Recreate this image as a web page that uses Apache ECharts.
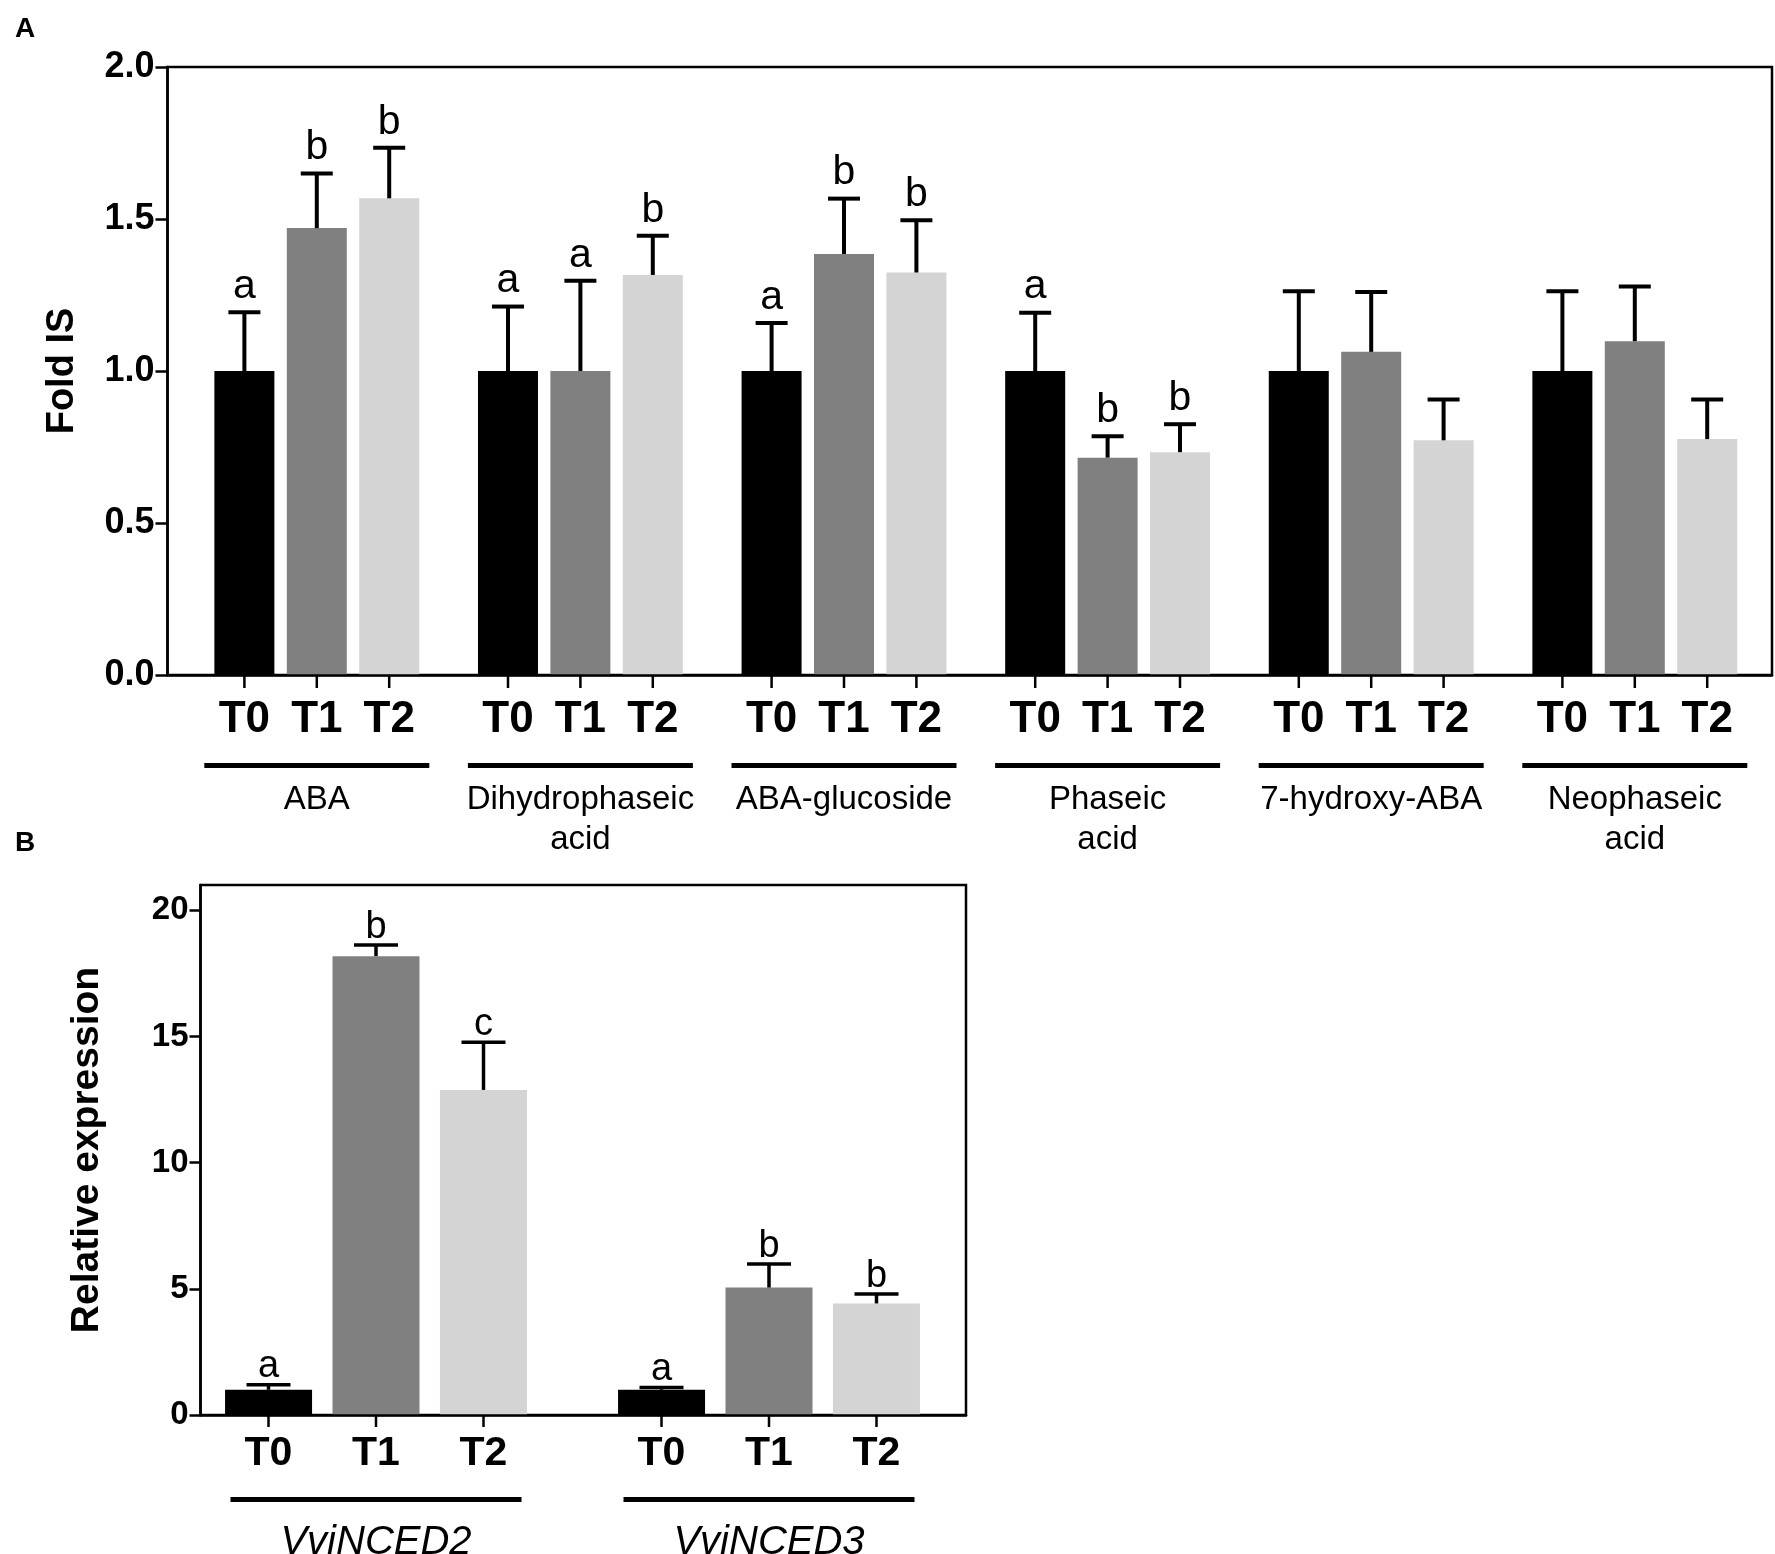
<!DOCTYPE html>
<html><head><meta charset="utf-8">
<script src="https://cdn.jsdelivr.net/npm/echarts@6/dist/echarts.min.js"></script>
<style>html,body{margin:0;padding:0;background:#fff}#c{width:1775px;height:1554px}</style>
</head><body><div id="c"></div>
<script>
// ---------- Panel A data ----------
const groupsA = ['ABA', 'Dihydrophaseic\nacid', 'ABA-glucoside', 'Phaseic\nacid', '7-hydroxy-ABA', 'Neophaseic\nacid'];
const timeLabels = ['T0', 'T1', 'T2'];
const t0A = [1.0, 1.0, 1.0, 1.0, 1.0, 1.0];
const t1A = [1.47, 1.0, 1.385, 0.715, 1.063, 1.098];
const t2A = [1.568, 1.316, 1.324, 0.733, 0.772, 0.776];
const t0ErrA = [0.193, 0.212, 0.158, 0.192, 0.262, 0.262];
const t1ErrA = [0.18, 0.297, 0.182, 0.07, 0.197, 0.18];
const t2ErrA = [0.166, 0.129, 0.172, 0.092, 0.134, 0.13];
const t0LetA = ['a', 'a', 'a', 'a', '', ''];
const t1LetA = ['b', 'a', 'b', 'b', '', ''];
const t2LetA = ['b', 'b', 'b', 'b', '', ''];
const yTicksA = [0, 0.5, 1.0, 1.5, 2.0];

// ---------- Panel B data ----------
const groupsB = ['VviNCED2', 'VviNCED3'];
const t0B = [1.0, 1.0];
const t1B = [18.18, 5.05];
const t2B = [12.88, 4.42];
const t0ErrB = [0.2, 0.09];
const t1ErrB = [0.44, 0.93];
const t2ErrB = [1.89, 0.37];
const t0LetB = ['a', 'a'];
const t1LetB = ['b', 'b'];
const t2LetB = ['c', 'b'];
const yTicksB = [0, 5, 10, 15, 20];

const FONT = '"Liberation Sans", Arial, Helvetica, sans-serif';
const colors = ['#000000', '#808080', '#d4d4d4'];

function overlay(cfg) {
  const items = [];
  for (let g = 0; g < cfg.means[0].length; g++) for (let t = 0; t < 3; t++) items.push([g, t]);
  return {
    type: 'custom', xAxisIndex: cfg.xi, yAxisIndex: cfg.yi, z: 10, clip: false, silent: true,
    data: items,
    renderItem: function (params, api) {
      const g = api.value(0), t = api.value(1);
      const mean = cfg.means[t][g], err = cfg.errs[t][g], letter = cfg.letters[t][g];
      const base = api.coord([g, 0]);
      const x = base[0] + (t - 1) * cfg.step;
      const y0 = base[1];
      const yTop = api.coord([g, mean])[1];
      const yCap = api.coord([g, mean + err])[1];
      const ch = [
        { type: 'line', shape: { x1: x, y1: y0, x2: x, y2: y0 + cfg.tickLen }, style: { stroke: '#000', lineWidth: cfg.tickW } },
        { type: 'text', style: { text: timeLabels[t], x: x, y: y0 + cfg.tOff, align: 'center', verticalAlign: 'middle', font: 'bold ' + cfg.tSize + 'px ' + FONT, fill: '#000' } },
        { type: 'line', shape: { x1: x, y1: yTop, x2: x, y2: yCap }, style: { stroke: '#000', lineWidth: cfg.ebW } },
        { type: 'line', shape: { x1: x - cfg.cap / 2, y1: yCap, x2: x + cfg.cap / 2, y2: yCap }, style: { stroke: '#000', lineWidth: cfg.ebW } }
      ];
      if (letter) ch.push({ type: 'text', style: { text: letter, x: x, y: yCap + cfg.letterOff, align: 'center', verticalAlign: 'bottom', font: cfg.letterSize + 'px ' + FONT, fill: '#000' } });
      return { type: 'group', children: ch };
    }
  };
}

function bars(xi, yi, arrs, w, gap) {
  return arrs.map((d, i) => ({
    type: 'bar', xAxisIndex: xi, yAxisIndex: yi, data: d, barWidth: w, barGap: gap,
    itemStyle: { color: colors[i] }, silent: true, z: 2
  }));
}

const option = {
  animation: false,
  backgroundColor: '#fff',
  textStyle: { fontFamily: FONT, color: '#000' },
  title: [
    { text: 'A', left: 15, top: 15, padding: 0, textStyle: { fontSize: 28, fontWeight: 'bold', color: '#000', fontFamily: FONT } },
    { text: 'B', left: 15, top: 829, padding: 0, textStyle: { fontSize: 28, fontWeight: 'bold', color: '#000', fontFamily: FONT } }
  ],
  grid: [
    { left: 185, top: 67, width: 1581.6, height: 608, outerBoundsMode: 'none', containLabel: false },
    { left: 167.5, top: 67, width: 1604.5, height: 608, show: true, borderColor: '#000', borderWidth: 2.5, outerBoundsMode: 'none', containLabel: false },
    { left: 179.5, top: 885, width: 786, height: 530, outerBoundsMode: 'none', containLabel: false },
    { left: 200.5, top: 885, width: 765.5, height: 530, show: true, borderColor: '#000', borderWidth: 2.5, outerBoundsMode: 'none', containLabel: false }
  ],
  xAxis: [
    { gridIndex: 0, type: 'category', data: groupsA, axisLine: { show: false }, axisTick: { show: false },
      axisLabel: { interval: 0, margin: 88, color: '#000',
        formatter: v => '{line|}\n{gap|}\n' + v.split('\n').map(s => '{name|' + s + '}').join('\n'),
        rich: { line: { width: 225, height: 5, backgroundColor: '#000' }, gap: { height: 12 },
                name: { fontSize: 33, lineHeight: 40, color: '#000', fontFamily: FONT } } } },
    { gridIndex: 1, type: 'value', min: 0, max: 1, z: 5, axisLine: { show: true, lineStyle: { color: '#000', width: 2.5 } },
      axisTick: { show: false }, axisLabel: { show: false }, splitLine: { show: false } },
    { gridIndex: 2, type: 'category', data: groupsB, axisLine: { show: false }, axisTick: { show: false },
      axisLabel: { interval: 0, margin: 82, color: '#000',
        formatter: v => '{line|}\n{gap|}\n{name|' + v + '}',
        rich: { line: { width: 291, height: 5, backgroundColor: '#000' }, gap: { height: 19 },
                name: { fontSize: 40, lineHeight: 44, fontStyle: 'italic', color: '#000', fontFamily: FONT } } } },
    { gridIndex: 3, type: 'value', min: 0, max: 1, z: 5, axisLine: { show: true, lineStyle: { color: '#000', width: 2.5 } },
      axisTick: { show: false }, axisLabel: { show: false }, splitLine: { show: false } }
  ],
  yAxis: [
    { gridIndex: 0, type: 'value', min: 0, max: 2, show: false },
    { gridIndex: 1, type: 'value', min: 0, max: 2, interval: 0.5, z: 5,
      axisLine: { show: true, lineStyle: { color: '#000', width: 2.5 } },
      axisTick: { show: true, length: 12, lineStyle: { color: '#000', width: 2.5 }, customValues: yTicksA },
      axisLabel: { margin: 13, fontSize: 36, fontWeight: 'bold', color: '#000', fontFamily: FONT, customValues: yTicksA, formatter: v => v.toFixed(1) },
      splitLine: { show: false },
      name: 'Fold IS', nameLocation: 'middle', nameGap: 86,
      nameTextStyle: { fontSize: 38, fontWeight: 'bold', color: '#000', fontFamily: FONT } },
    { gridIndex: 2, type: 'value', min: 0, max: 21, show: false },
    { gridIndex: 3, type: 'value', min: 0, max: 21, z: 5,
      axisLine: { show: true, lineStyle: { color: '#000', width: 2.5 } },
      axisTick: { show: true, length: 11, lineStyle: { color: '#000', width: 2.5 }, customValues: yTicksB },
      axisLabel: { margin: 12, fontSize: 33, fontWeight: 'bold', color: '#000', fontFamily: FONT, customValues: yTicksB },
      splitLine: { show: false },
      name: 'Relative expression', nameLocation: 'middle', nameGap: 94,
      nameTextStyle: { fontSize: 39, fontWeight: 'bold', color: '#000', fontFamily: FONT } }
  ],
  series: [
    ...bars(0, 0, [t0A, t1A, t2A], 60, '20.7%'),
    overlay({ xi: 0, yi: 0, means: [t0A, t1A, t2A], errs: [t0ErrA, t1ErrA, t2ErrA], letters: [t0LetA, t1LetA, t2LetA],
      step: 72.4, tickLen: 13, tickW: 2.5, tOff: 45, tSize: 44, ebW: 4, cap: 32, letterOff: -5, letterSize: 41 }),
    ...bars(2, 2, [t0B, t1B, t2B], 87, '23.5%'),
    overlay({ xi: 2, yi: 2, means: [t0B, t1B, t2B], errs: [t0ErrB, t1ErrB, t2ErrB], letters: [t0LetB, t1LetB, t2LetB],
      step: 107.5, tickLen: 12, tickW: 2.5, tOff: 39, tSize: 41, ebW: 3.5, cap: 44, letterOff: 1, letterSize: 38 })
  ]
};

const chart = echarts.init(document.getElementById('c'), null, { renderer: 'canvas' });
chart.setOption(option);
</script>
</body></html>
